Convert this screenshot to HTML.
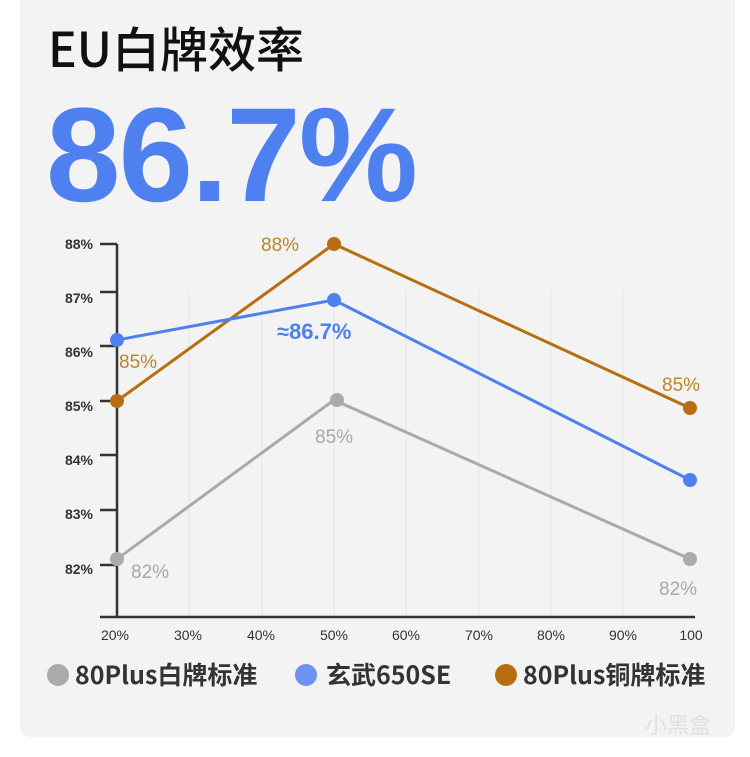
<!DOCTYPE html>
<html><head><meta charset="utf-8"><style>
body{margin:0;width:750px;height:757px;background:#fff;overflow:hidden;font-family:"Liberation Sans","Noto Sans CJK SC",sans-serif}
.card{position:absolute;left:20px;top:-10px;width:715px;height:747px;background:#f3f3f3;border-radius:10px}
.t{position:absolute;white-space:nowrap}
</style></head><body>
<div class="card"></div>
<div class="t" style="left:48px;top:14px;font-size:48px;font-weight:500;color:#111;font-family:'Noto Sans CJK SC','Liberation Sans',sans-serif;line-height:64px">EU白牌效率</div>
<div class="t" style="left:46px;top:86px;font-size:134px;font-weight:bold;color:#4f80f0;letter-spacing:-2px;line-height:140px">86.7%</div>
<svg width="750" height="757" style="position:absolute;left:0;top:0" font-family="Liberation Sans, Noto Sans CJK SC, sans-serif">
<g stroke="#e4e4e4" stroke-width="1">
<line x1="189" y1="290" x2="189" y2="617"/><line x1="262" y1="290" x2="262" y2="617"/><line x1="334" y1="290" x2="334" y2="617"/><line x1="406" y1="290" x2="406" y2="617"/><line x1="479" y1="290" x2="479" y2="617"/><line x1="551" y1="290" x2="551" y2="617"/><line x1="623" y1="290" x2="623" y2="617"/>
</g>
<g stroke="#333" stroke-width="2.5">
<line x1="117" y1="244" x2="117" y2="617"/><line x1="100" y1="617" x2="695" y2="617"/>
<line x1="100" y1="244" x2="117" y2="244"/><line x1="100" y1="292" x2="117" y2="292"/><line x1="100" y1="346" x2="117" y2="346"/><line x1="100" y1="401" x2="117" y2="401"/><line x1="100" y1="455" x2="117" y2="455"/><line x1="100" y1="510" x2="117" y2="510"/><line x1="100" y1="565" x2="117" y2="565"/>
</g>
<g font-size="14" font-weight="bold" fill="#333" text-anchor="end">
<text x="93" y="249">88%</text><text x="93" y="303">87%</text><text x="93" y="357">86%</text><text x="93" y="411">85%</text><text x="93" y="465">84%</text><text x="93" y="519">83%</text><text x="93" y="574">82%</text>
</g>
<g font-size="14" fill="#333" text-anchor="middle">
<text x="115" y="640">20%</text><text x="188" y="640">30%</text><text x="261" y="640">40%</text><text x="334" y="640">50%</text><text x="406" y="640">60%</text><text x="479" y="640">70%</text><text x="551" y="640">80%</text><text x="623" y="640">90%</text><text x="691" y="640">100</text>
</g>
<polyline points="117,559 334,400 690,559" fill="none" stroke="#aaa" stroke-width="3"/>
<polyline points="117,401 334,244 690,408" fill="none" stroke="#b86e10" stroke-width="3"/>
<polyline points="117,340 334,300 690,480" fill="none" stroke="#4f80f0" stroke-width="3"/>
<g fill="#aaa"><circle cx="117" cy="559" r="7"/><circle cx="337" cy="400" r="7"/><circle cx="690" cy="559" r="7"/></g>
<g fill="#b86e10"><circle cx="117" cy="401" r="7"/><circle cx="334" cy="244" r="7"/><circle cx="690" cy="408" r="7"/></g>
<g fill="#4f80f0"><circle cx="117" cy="340" r="7"/><circle cx="334" cy="300" r="7"/><circle cx="690" cy="480" r="7"/></g>
<g font-size="19" fill="#b8862c"><text x="119" y="368">85%</text><text x="261" y="251">88%</text><text x="662" y="391">85%</text></g>
<g font-size="19" fill="#a8a8a8"><text x="315" y="443">85%</text><text x="131" y="578">82%</text><text x="659" y="595">82%</text></g>
<text x="277" y="339" font-size="22" font-weight="bold" fill="#4f80f0">≈86.7%</text>
<g font-family="Noto Sans CJK SC, Liberation Sans, sans-serif" font-size="25" font-weight="bold" fill="#333">
<circle cx="58" cy="675" r="11" fill="#aaa"/><text x="75" y="684">80Plus白牌标准</text>
<circle cx="306" cy="675" r="11" fill="#6a93f3"/><text x="326" y="684">玄武650SE</text>
<circle cx="506" cy="675" r="11" fill="#b86e10"/><text x="523" y="684">80Plus铜牌标准</text>
</g>
<text x="645" y="733" font-size="22" fill="#e0e0e0" font-family="Noto Sans CJK SC, sans-serif">小黑盒</text>
</svg>
</body></html>
